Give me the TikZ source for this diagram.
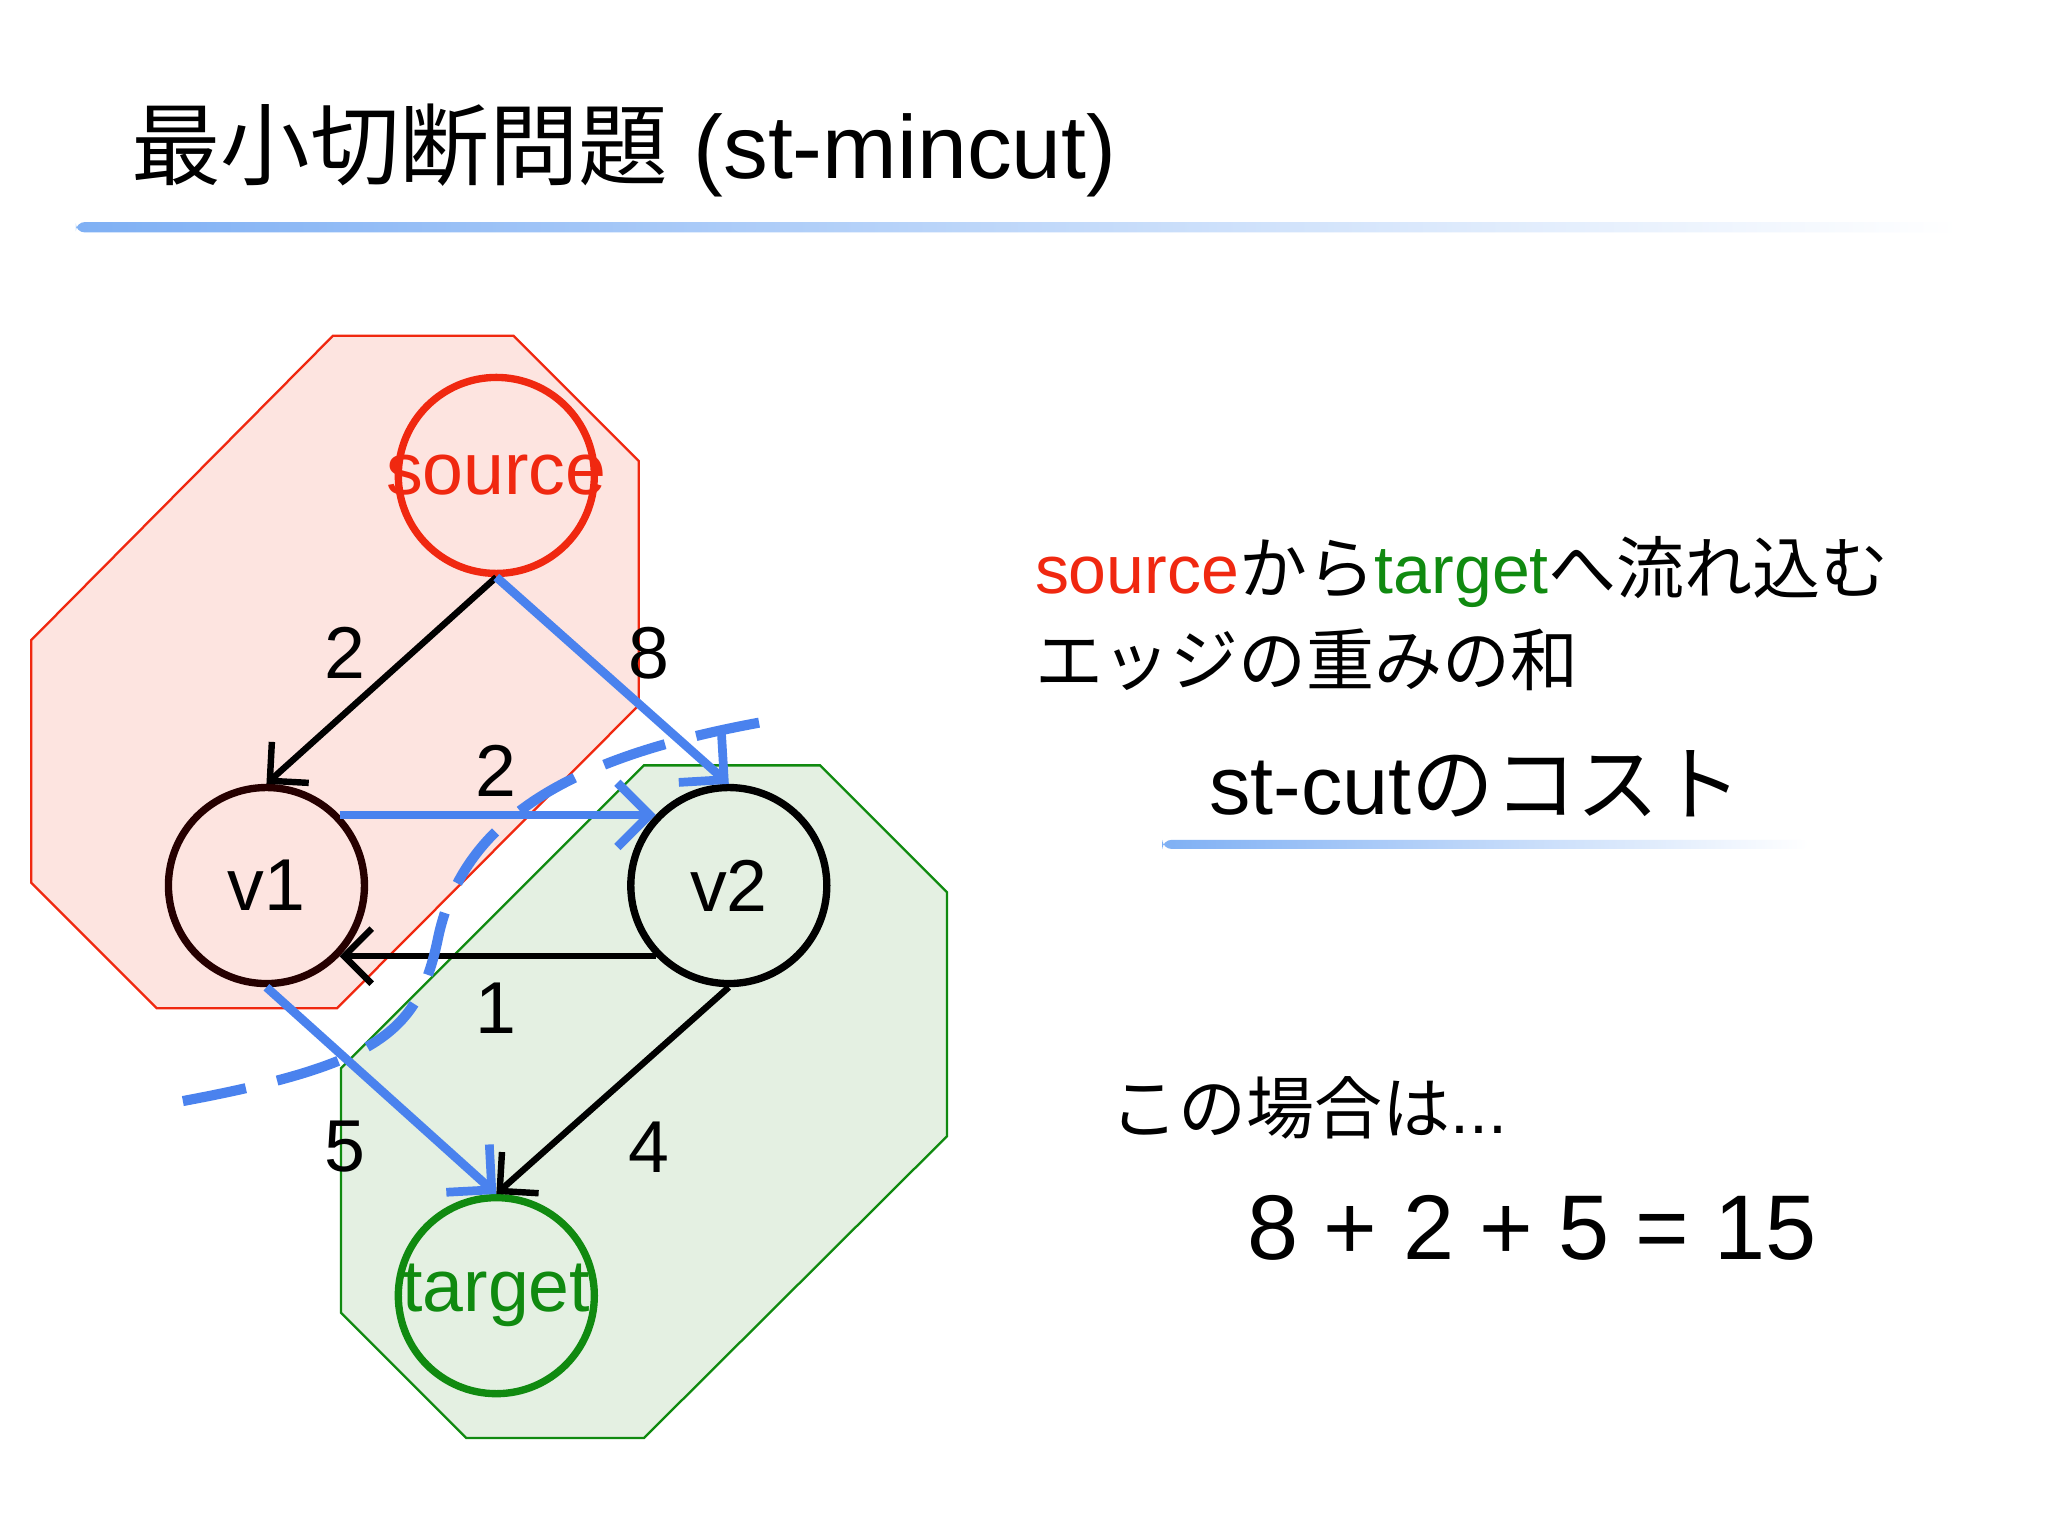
\documentclass[tikz,border=0pt]{standalone}
\usepackage{fontspec}
\setmainfont{Liberation Sans}
\newfontfamily\cjk{Noto Sans CJK JP}
\usetikzlibrary{arrows.meta}
\definecolor{cblue}{HTML}{4A82EE}
\definecolor{cred}{HTML}{F02810}
\definecolor{cgreen}{HTML}{108A10}
\definecolor{pinkf}{HTML}{FDE4E0}
\definecolor{greenf}{HTML}{E4F0E2}
\definecolor{lineblue}{HTML}{7FB0F4}
\tikzset{
 vtx/.style={circle,minimum size=1.5cm,line width=1.6pt,inner sep=0pt},
 vlab/.style={font=\fontsize{16}{18}\selectfont},
 blk/.style={line width=1.4pt,draw=black,-{Straight Barb[length=6pt,width=12pt,line width=1.4pt]}},
 blu/.style={line width=1.9pt,draw=cblue,-{Straight Barb[length=7pt,width=14pt,line width=1.9pt]}},
 lab/.style={font=\fontsize{16}{18}\selectfont}
}
\begin{document}
\begin{tikzpicture}[x=0.01cm,y=-0.01cm]
\useasboundingbox (0,0) rectangle (1568,1176);
\fill[white] (0,0) rectangle (1568,1176);
% title
\node[anchor=west,font=\fontsize{19.5}{22}\selectfont] (title) at (88,115) {{\cjk 最小切断問題} (st-mincut)};
\shade[left color=lineblue,right color=white,rounded corners=2pt] (58,170) rectangle (1500,178);
% regions
\filldraw[fill=pinkf,draw=cred,line width=0.5pt] (255,257)--(393,257)--(489,353)--(489,540)--(258,772)--(120,772)--(24,676)--(24,490)--cycle;
\filldraw[fill=greenf,draw=cgreen,line width=0.5pt] (493,586)--(628,586)--(725,683)--(725,870)--(493,1101)--(357,1101)--(261,1005)--(261,818)--cycle;
% nodes
\node[vtx,draw=cred,fill=pinkf,label={[vlab,text=cred]center:source}] (source) at (380,364) {};
\node[vtx,draw=black!85!red,fill=pinkf,label={[vlab]center:v1}] (v1) at (204,678) {};
\node[vtx,draw=black,fill=greenf,label={[vlab]center:v2}] (v2) at (558,678) {};
\node[vtx,draw=cgreen,fill=greenf,label={[vlab,text=cgreen]center:target}] (target) at (380,992) {};
% edges
\draw[blk] (source.south) -- (v1.north);
\draw[blu] (source.south) -- (v2.north);
\draw[blu] (v1.44) -- (v2.136);
\draw[blk] (v2.224) -- (v1.316);
\draw[blu] (v1.south) -- (target.north);
\draw[blk] (v2.south) -- (target.north);
% labels
\node[lab] (l1) at (264,500) {2};
\node[lab] (l2) at (497,500) {8};
\node[lab] (l3) at (380,590) {2};
\node[lab] (l4) at (380,772) {1};
\node[lab] (l5) at (264,878) {5};
\node[lab] (l6) at (497,878) {4};
% cut
\draw[cblue,line width=2.2pt,dash pattern=on 14pt off 7pt] (140,843) .. controls (290,815) and (320,790) .. (335,720) .. controls (355,620) and (450,575) .. (600,550);
% right texts
\node[anchor=west,font=\fontsize{14.8}{20}\selectfont,align=left] (t1) at (780,470) {\textcolor{cred}{source}{\cjk から}\textcolor{cgreen}{target}{\cjk へ流れ込む}\\{\cjk エッジの重みの和}};
\node[font=\fontsize{18}{20}\selectfont] (t2) at (1130,600) {st-cut{\cjk のコスト}};
\shade[left color=lineblue,right color=white,rounded corners=2pt] (890,643) rectangle (1385,650);
\node[anchor=west,font=\fontsize{14.8}{20}\selectfont] (t3) at (838,848) {{\cjk この場合は}...};
\node[font=\fontsize{20}{24}\selectfont] (t4) at (1173,940) {8 + 2 + 5 = 15};
\end{tikzpicture}
\end{document}
